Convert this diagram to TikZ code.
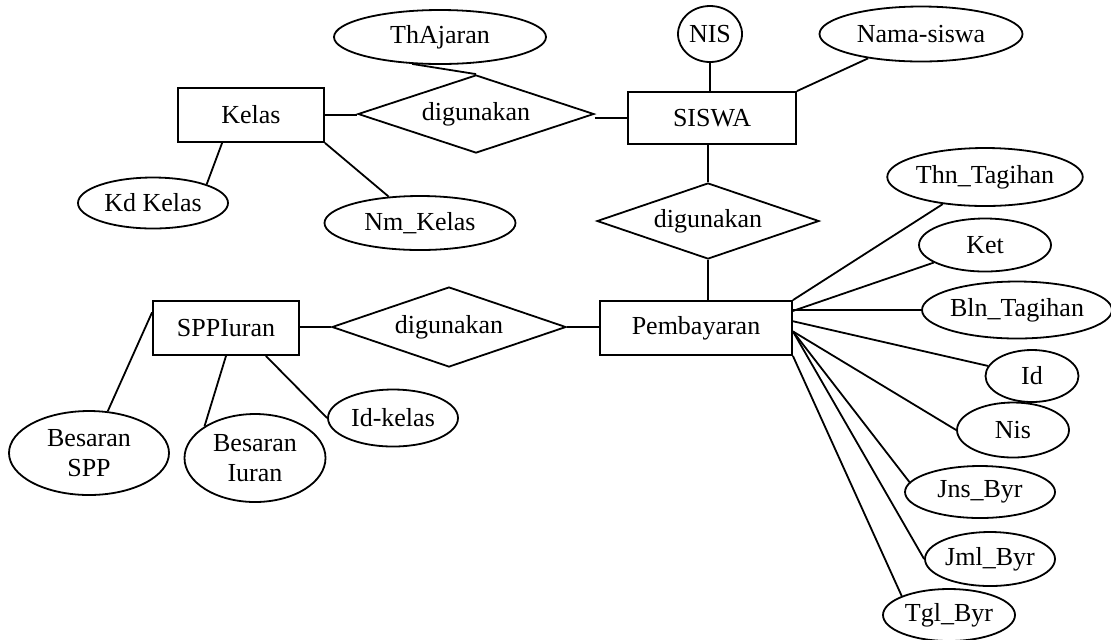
\documentclass[tikz,border=0pt]{standalone}
\usepackage{fontspec}
\setmainfont{Liberation Serif}
\usetikzlibrary{shapes.geometric}

\begin{document}
\begin{tikzpicture}[x=0.5pt,y=-0.5pt,line width=0.9pt,
  font=\fontsize{13}{15}\selectfont,
  ent/.style={draw,rectangle,inner sep=0pt},
  attr/.style={draw,ellipse,inner sep=0pt,align=center},
  rel/.style={draw,diamond,aspect=3,inner sep=0pt}]
\useasboundingbox (0,0) rectangle (1111,639);
\node[ent,minimum width=73pt,minimum height=27pt] (kelas) at (251,115) {Kelas};
\node[ent,minimum width=84pt,minimum height=26pt] (siswa) at (712,118) {SISWA};
\node[ent,minimum width=96pt,minimum height=27pt] (pemb) at (696,328) {Pembayaran};
\node[ent,minimum width=73pt,minimum height=27pt] (spp) at (226,328) {SPPIuran};
\node[rel,minimum width=118pt,minimum height=39pt] (d1) at (476,114) {digunakan};
\node[rel,minimum width=111pt,minimum height=38pt] (d2) at (708,221) {digunakan};
\node[rel,minimum width=117pt,minimum height=40pt] (d3) at (449,327) {digunakan};
\node[attr,minimum width=106pt,minimum height=27pt] (thaj) at (440,37) {ThAjaran};
\node[attr,minimum width=75pt,minimum height=25.5pt] (kd) at (153,203) {Kd Kelas};
\node[attr,minimum width=95.5pt,minimum height=27pt] (nm) at (420,223) {Nm\_Kelas};
\node[attr,minimum width=32pt,minimum height=28pt] (nis) at (710,34) {NIS};
\node[attr,minimum width=101.5pt,minimum height=27.5pt] (nama) at (921,34) {Nama-siswa};
\node[attr,minimum width=97.5pt,minimum height=29pt] (thn) at (985,177) {Thn\_Tagihan};
\node[attr,minimum width=66pt,minimum height=26.5pt] (ket) at (985,245) {Ket};
\node[attr,minimum width=95pt,minimum height=28.5pt] (bln) at (1017,310) {Bln\_Tagihan};
\node[attr,minimum width=46.5pt,minimum height=26pt] (id) at (1032,376) {Id};
\node[attr,minimum width=56pt,minimum height=27.5pt] (nis2) at (1013,430) {Nis};
\node[attr,minimum width=75pt,minimum height=26pt] (jns) at (980,492) {Jns\_Byr};
\node[attr,minimum width=65pt,minimum height=27pt] (jml) at (990,559) {Jml\_Byr};
\node[attr,minimum width=66pt,minimum height=26pt] (tgl) at (949,615) {Tgl\_Byr};
\node[attr,minimum width=80pt,minimum height=42pt] (bspp) at (89,453) {Besaran\\SPP};
\node[attr,minimum width=70.5pt,minimum height=44pt] (biur) at (255,458) {Besaran\\Iuran};
\node[attr,minimum width=65pt,minimum height=28.5pt] (idk) at (393,418) {Id-kelas};
\draw (kelas.east) -- (kelas.east -| d1.west);
\draw (d1.east |- siswa.west) -- (siswa.west);
\draw (thaj.-136) -- (d1.north);
\draw (kelas.-136) -- (kd.north east);
\draw (kelas.south east) -- (nm);
\draw (nis) -- (nis |- siswa.north);
\draw (siswa.north east) -- (nama);
\draw (siswa.south -| d2.north) -- (d2.north);
\draw (d2.south) -- (d2.south |- pemb.north);
\draw (spp.east |- d3.west) -- (d3.west);
\draw (d3.east) -- (d3.east -| pemb.west);
\draw (spp.168) -- (bspp);
\draw (spp.south) -- (biur.north west);
\draw (spp.-35) -- (idk.west);
\draw (pemb.north east) -- (thn);
\draw (pemb.10) -- (ket);
\draw (bln.west -| pemb.east) -- (bln.west);
\draw (pemb.4) -- (id);
\foreach \a in {nis2.west,jns.172,jml.west}
{
\draw (pemb.-2) -- (\a);
}
\draw (pemb.south east) -- (tgl.north west);
\end{tikzpicture}
\end{document}
